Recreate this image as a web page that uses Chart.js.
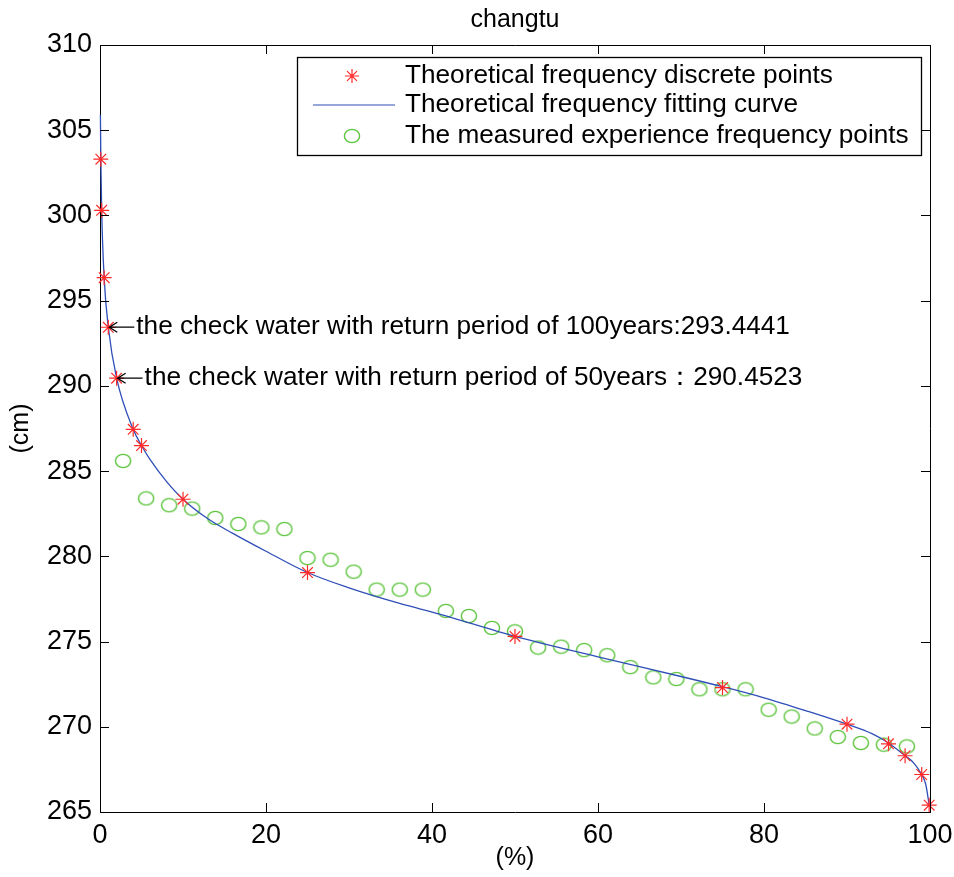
<!DOCTYPE html>
<html>
<head>
<meta charset="utf-8">
<script src="https://cdn.jsdelivr.net/npm/chart.js@4"></script>
<style>
  body { margin: 0; background: #fff; }
  #wrap { width: 954px; height: 877px; }
</style>
</head>
<body>
<div id="wrap"><canvas id="chart1" width="954" height="877"></canvas></div>
<script>
    // theoretical frequency (%) and height (cm)
    const theoryP = [0.1, 0.2, 0.5, 1, 2, 4, 5, 10, 25, 50, 75, 90, 95, 97, 99, 99.9];
    const theoryH = [303.3, 300.3, 296.35, 293.44, 290.45, 287.45, 286.5, 283.35, 279.05, 275.3, 272.3, 270.15, 269.0, 268.3, 267.2, 265.4];

    // fitted curve
    const curveP = [0.05, 0.1, 0.2, 0.5, 1, 2, 4, 5, 6, 8, 10, 13, 16, 20, 25, 30, 36, 41, 50, 60, 70, 75, 80, 85, 90, 93, 95, 97, 98, 99, 99.5, 99.9];
    const curveH = [305.9, 303.3, 300.3, 296.35, 293.44, 290.45, 287.45, 286.5, 285.7, 284.4, 283.35, 282.2, 281.35, 280.3, 279.05, 278.15, 277.25, 276.6, 275.3, 274.1, 272.95, 272.35, 271.7, 270.95, 270.15, 269.6, 269.05, 268.3, 267.9, 267.2, 266.6, 265.4];

    // measured empirical frequency points
    const measP = [2.78, 5.56, 8.33, 11.11, 13.89, 16.67, 19.44, 22.22, 25.0, 27.78, 30.56, 33.33, 36.11, 38.89, 41.67, 44.44, 47.22, 50.0, 52.78, 55.56, 58.33, 61.11, 63.89, 66.67, 69.44, 72.22, 75.0, 77.78, 80.56, 83.33, 86.11, 88.89, 91.67, 94.44, 97.22];
    const measH = [285.6, 283.4, 283.0, 282.8, 282.25, 281.9, 281.7, 281.6, 279.9, 279.8, 279.1, 278.05, 278.05, 278.05, 276.8, 276.5, 275.8, 275.6, 274.65, 274.7, 274.5, 274.2, 273.5, 272.9, 272.8, 272.2, 272.2, 272.2, 271.0, 270.6, 269.9, 269.4, 269.05, 268.95, 268.85];

    const xTicks = [0, 20, 40, 60, 80, 100];
    const yTicks = [265, 270, 275, 280, 285, 290, 295, 300, 305, 310];

    const notes = [
      { p: 1, h: 293.4441, text: "the check water with return period of 100years:293.4441" },
      { p: 2, h: 290.4523, text: "the check water with return period of 50years\uFF1A290.4523" }
    ];

    const legendLabels = ["Theoretical frequency discrete points", "Theoretical frequency fitting curve", "The measured experience frequency points"];

    const FONT = "'Liberation Sans', Arial, sans-serif";
    const RED = "#ff2a2a", BLUE = "#2f4fb8", GREEN = "#5cc43c";

    function toPts(xs, ys) {
      return xs.map((x, i) => ({ x: x, y: ys[i] }));
    }

    // open ellipse marker like matlab 'o'
    const ring = document.createElement("canvas");
    ring.width = 18; ring.height = 16;
    (function () {
      const rc = ring.getContext("2d");
      rc.strokeStyle = GREEN;
      rc.lineWidth = 1.4;
      rc.beginPath();
      rc.ellipse(9, 8, 7.6, 6.6, 0, 0, Math.PI * 2);
      rc.stroke();
    })();

    const decor = {
      id: "decor",
      afterDraw(chart) {
        const ctx = chart.ctx, a = chart.chartArea;
        const xs = chart.scales.x, ys = chart.scales.y;
        ctx.save();
        ctx.strokeStyle = "#000";
        ctx.lineWidth = 1;
        // box
        ctx.beginPath();
        ctx.moveTo(a.left, a.top + 0.5); ctx.lineTo(a.right + 0.5, a.top + 0.5); ctx.lineTo(a.right + 0.5, a.bottom);
        ctx.stroke();
        // inward ticks
        ctx.beginPath();
        xTicks.forEach(v => {
          const px = Math.round(xs.getPixelForValue(v)) + 0.5;
          ctx.moveTo(px, a.bottom); ctx.lineTo(px, a.bottom - 9);
          ctx.moveTo(px, a.top); ctx.lineTo(px, a.top + 9);
        });
        yTicks.forEach(v => {
          const py = Math.round(ys.getPixelForValue(v)) + 0.5;
          ctx.moveTo(a.left, py); ctx.lineTo(a.left + 9, py);
          ctx.moveTo(a.right, py); ctx.lineTo(a.right - 9, py);
        });
        ctx.stroke();

        ctx.fillStyle = "#000";
        // title and axis labels
        ctx.font = "25px " + FONT;
        ctx.textAlign = "center";
        ctx.textBaseline = "middle";
        ctx.fillText("changtu", (a.left + a.right) / 2, 20);
        ctx.fillText("(%)", (a.left + a.right) / 2, 858);
        ctx.save();
        ctx.translate(21, (a.top + a.bottom) / 2);
        ctx.rotate(-Math.PI / 2);
        ctx.fillText("(cm)", 0, 0);
        ctx.restore();

        // annotations: left arrow + text, anchored at the data point
        ctx.font = "26.2px " + FONT;
        ctx.textAlign = "left";
        ctx.lineWidth = 1.3;
        notes.forEach(n => {
          const px = xs.getPixelForValue(n.p), py = ys.getPixelForValue(n.h);
          ctx.beginPath();
          ctx.moveTo(px + 1, py); ctx.lineTo(px + 26, py);
          ctx.moveTo(px + 9, py - 5); ctx.lineTo(px + 1, py); ctx.lineTo(px + 9, py + 5);
          ctx.stroke();
          ctx.fillText(n.text, px + 28, py);
        });

        // legend
        const bx = 297.5, by = 57.5, bw = 624, bh = 98;
        ctx.fillStyle = "#fff";
        ctx.fillRect(bx, by, bw, bh);
        ctx.strokeRect(bx, by, bw, bh);
        const rows = [76, 105, 136];
        ctx.fillStyle = "#000";
        ctx.font = "26.2px " + FONT;
        legendLabels.forEach((t, i) => ctx.fillText(t, 405, rows[i]));
        ctx.strokeStyle = RED;
        ctx.lineWidth = 1.2;
        Chart.helpers.drawPoint(ctx, { pointStyle: "star", radius: 7, rotation: 0, borderWidth: 1.2 }, 352, rows[0]);
        ctx.strokeStyle = BLUE;
        ctx.beginPath(); ctx.moveTo(313, rows[1]); ctx.lineTo(395, rows[1]); ctx.stroke();
        ctx.drawImage(ring, 352 - 9, rows[2] - 8);
        ctx.restore();
      }
    };

    const ctx1 = document.getElementById("chart1").getContext("2d");
    new Chart(ctx1, {
      type: "scatter",
      data: {
        datasets: [
          { label: legendLabels[0], data: toPts(theoryP, theoryH), pointStyle: "star", pointRadius: 7.5, borderColor: RED, borderWidth: 1.2, showLine: false, clip: false },
          { label: legendLabels[1], data: toPts(curveP, curveH), showLine: true, pointRadius: 0, borderColor: BLUE, borderWidth: 1.3, cubicInterpolationMode: "monotone", clip: false },
          { label: legendLabels[2], data: toPts(measP, measH), pointStyle: ring, pointRadius: 8, showLine: false, clip: false }
        ]
      },
      options: {
        responsive: false,
        animation: false,
        layout: { padding: { top: 45, right: 24, left: 0, bottom: 0 } },
        plugins: { legend: { display: false }, title: { display: false }, tooltip: { enabled: false } },
        scales: {
          x: {
            type: "linear", min: 0, max: 100,
            afterFit: s => { s.height = 65; s.paddingLeft = 0; s.paddingRight = 0; },
            afterBuildTicks: s => { s.ticks = xTicks.map(v => ({ value: v })); },
            ticks: { color: "#000", font: { size: 27, family: FONT }, padding: 7, maxRotation: 0 },
            grid: { display: true, drawOnChartArea: false, drawTicks: false },
            border: { display: true, color: "#000", width: 1 }
          },
          y: {
            type: "linear", min: 265, max: 310,
            afterFit: s => { s.width = 100; s.paddingTop = 0; s.paddingBottom = 0; },
            afterBuildTicks: s => { s.ticks = yTicks.map(v => ({ value: v })); },
            ticks: { color: "#000", font: { size: 27, family: FONT }, padding: 8 },
            grid: { display: true, drawOnChartArea: false, drawTicks: false },
            border: { display: true, color: "#000", width: 1 }
          }
        }
      },
      plugins: [decor]
    });
</script>
</body>
</html>
